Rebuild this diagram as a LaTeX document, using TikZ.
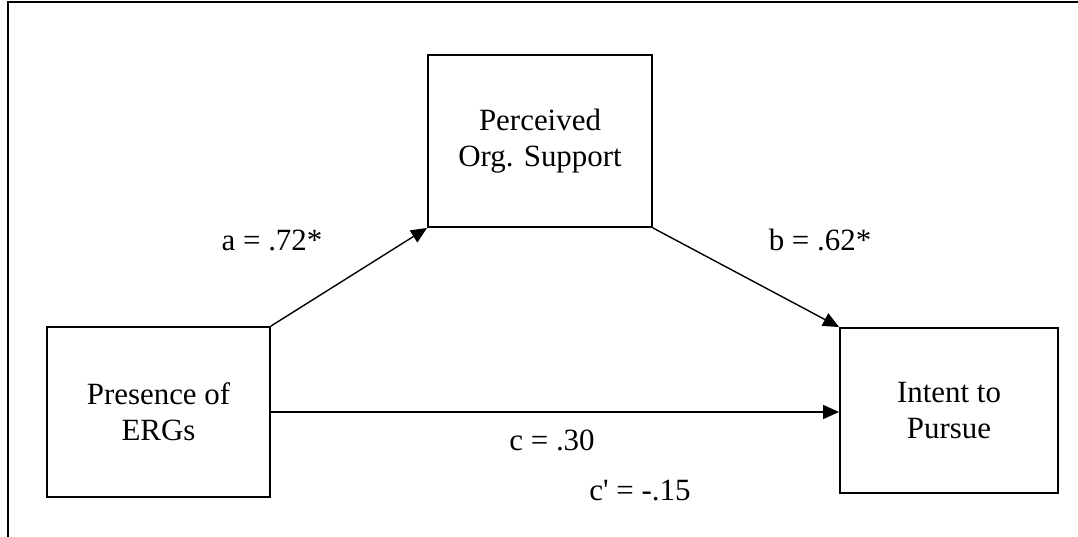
\documentclass[tikz,border=0pt]{standalone}
\usepackage{fontspec}
\setmainfont{Liberation Serif}
\usetikzlibrary{arrows.meta}

\tikzset{
  varbox/.style={draw, line width=1.1pt, align=center, inner sep=0pt},
  effect/.style={-{Triangle[length=0.32cm,width=0.28cm]}, line width=0.8pt},
  coef/.style={anchor=base, inner sep=0pt}
}

\begin{document}
\begin{tikzpicture}[x=0.02cm, y=-0.02cm, font=\fontsize{17.6}{20.6}\selectfont]
  \useasboundingbox (0,0) rectangle (1078,537);
  % === frame ===
  \draw[line width=1.7pt] (8,537) -- (8,2) -- (1078,2);
  % === variables ===
  \node[varbox, minimum width=4.48cm, minimum height=3.44cm] (pos) at (540,141) {Perceived\\Org. Support};
  \node[varbox, minimum width=4.46cm, minimum height=3.40cm] (pres) at (158.5,412) {Presence of\\ERGs};
  \node[varbox, minimum width=4.36cm, minimum height=3.30cm] (intent) at (949,410.5) {Intent to\\Pursue};
  % === paths ===
  \draw[effect] (pres.north east) -- (pos.south west);
  \draw[effect] (pos.south east) -- (intent.north west);
  \draw[effect] (pres.east) -- (pres.east -| intent.west);
  % === coefficients ===
  \node[coef] (lbl-a) at (272,250) {a = .72*};
  \node[coef] (lbl-b) at (820,250) {b = .62*};
  \node[coef] (lbl-c) at (552,450) {c = .30};
  \node[coef] (lbl-cp) at (640,500) {c\textquotesingle{} = -.15};
\end{tikzpicture}
\end{document}
